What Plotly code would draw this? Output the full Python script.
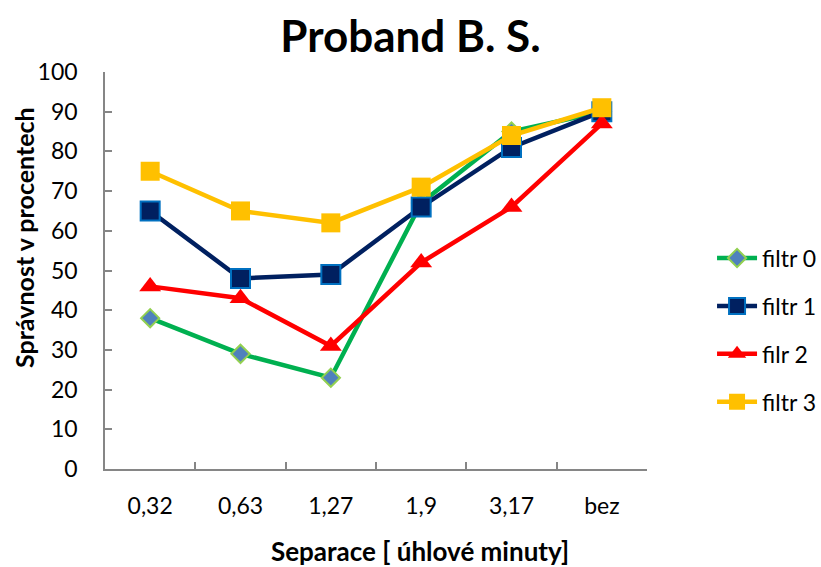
import plotly.graph_objects as go

categories = ["0,32", "0,63", "1,27", "1,9", "3,17", "bez"]
filtr0 = [38, 29, 23, 67, 85, 90]
filtr1 = [65, 48, 49, 66, 81, 90]
filr2 = [46, 43, 31, 52, 66, 87]
filtr3 = [75, 65, 62, 71, 84, 91]
names = ["filtr 0", "filtr 1", "filr 2", "filtr 3"]
title_text = "Proband B. S."
x_title = "Separace [ úhlové minuty]"
y_title = "Správnost v procentech"

FONT = "Lato, 'Open Sans', sans-serif"
AXC = "#868686"

fig = go.Figure()
fig.add_trace(go.Scatter(x=categories, y=filtr0, name=names[0], legendgroup="g0",
                         mode="lines+markers",
                         line=dict(color="#00B050", width=4.5),
                         marker=dict(symbol="diamond", size=14, color="#4F81BD",
                                     line=dict(color="#92D050", width=2))))
fig.add_trace(go.Scatter(x=categories, y=filtr1, name=names[1], legendgroup="g1",
                         mode="lines+markers",
                         line=dict(color="#002060", width=4.5),
                         marker=dict(symbol="square", size=19, color="#002060",
                                     line=dict(color="#0070C0", width=2))))
fig.add_trace(go.Scatter(x=categories, y=filr2, name=names[2], legendgroup="g2",
                         mode="lines+markers",
                         line=dict(color="#FF0000", width=4.5),
                         marker=dict(symbol="triangle-up", size=19, color="#FF0000",
                                     line=dict(color="#FF0000", width=0))))
fig.add_trace(go.Scatter(x=categories, y=filtr3, name=names[3], legendgroup="g3",
                         mode="lines+markers",
                         line=dict(color="#FFC000", width=4.5),
                         marker=dict(symbol="square", size=19, color="#FFC000",
                                     line=dict(color="#FFC000", width=0))))

fig.update_layout(
    width=821, height=567,
    paper_bgcolor="white", plot_bgcolor="white",
    margin=dict(l=105, r=174, t=72, b=98, autoexpand=False),
    font=dict(family=FONT, size=23, color="black"),
    title=dict(text="<b>" + title_text + "</b>", x=0.5, xref="container", xanchor="center",
               y=1 - 37 / 567, yref="container", yanchor="middle",
               font=dict(size=44, family=FONT)),
    showlegend=True,
    legend=dict(x=1.12, y=0.35, xanchor="left", yanchor="middle",
                font=dict(size=23, family=FONT), tracegroupgap=15,
                traceorder="grouped", itemwidth=40),
    xaxis=dict(type="category", range=[-0.5, len(categories) - 0.5],
               showline=True, linecolor=AXC, linewidth=1.5,
               ticks="inside", tickson="boundaries", ticklen=7, tickcolor=AXC,
               tickwidth=1.5, ticklabelstandoff=16,
               showgrid=False, zeroline=False,
               tickfont=dict(size=23)),
    yaxis=dict(range=[0, 100], dtick=10, showline=True, linecolor=AXC, linewidth=1.5,
               ticks="inside", ticklen=7, tickcolor=AXC, tickwidth=1.5,
               ticklabelstandoff=21,
               showgrid=False, zeroline=False,
               tickfont=dict(size=23)),
    annotations=[
        dict(text="<b>" + x_title + "</b>", xref="paper", yref="paper",
             x=0.581, y=-0.2066, xanchor="center", yanchor="middle",
             showarrow=False, font=dict(size=26, family=FONT)),
        dict(text="<b>" + y_title + "</b>", xref="paper", yref="paper",
             x=-0.1494, y=0.582, xanchor="center", yanchor="middle", textangle=-90,
             showarrow=False, font=dict(size=25, family=FONT)),
    ],
)

fig.write_html("out.html")
